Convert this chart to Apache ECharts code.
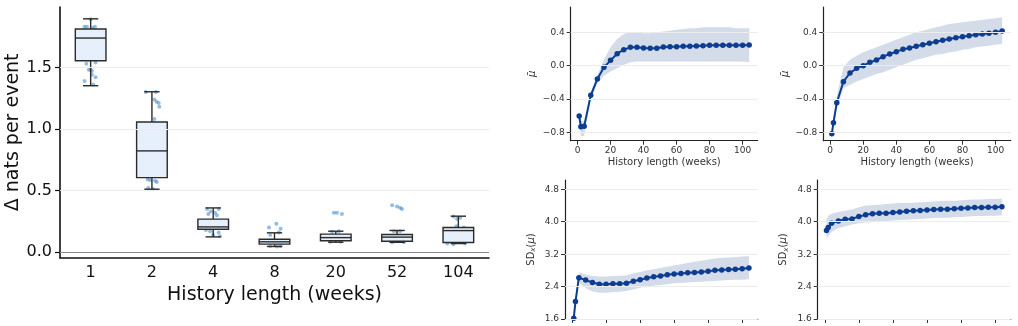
<!DOCTYPE html>
<html>
<head>
  <meta charset="UTF-8">
  <title>History length</title>
  <script src="https://cdn.jsdelivr.net/npm/echarts@6/dist/echarts.min.js"></script>
  <style>
    html, body { margin: 0; padding: 0; background: #fff; }
    #main { width: 1018px; height: 326px; }
  </style>
</head>
<body>
<div id="main"></div>
<script type="text/javascript">
  // ---- left panel: box plots ----
  var histCats = ['1', '2', '4', '8', '20', '52', '104'];
  // [min, Q1, median, Q3, max]
  var boxStats = [
    [1.351, 1.554, 1.738, 1.811, 1.894],
    [0.511, 0.605, 0.822, 1.057, 1.302],
    [0.124, 0.186, 0.205, 0.268, 0.359],
    [0.046, 0.065, 0.084, 0.105, 0.157],
    [0.081, 0.092, 0.118, 0.146, 0.170],
    [0.080, 0.089, 0.122, 0.143, 0.176],
    [0.070, 0.078, 0.175, 0.200, 0.292]
  ];
  // jittered points: [category index, offset, value]
  var dotPoints = [
    [0, -0.10, 1.83], [0, -0.06, 1.83], [0, 0.03, 1.82], [0, 0.07, 1.83], [0, 0.00, 1.89],
    [0, -0.07, 1.53], [0, 0.08, 1.54], [0, 0.00, 1.48], [0, -0.03, 1.48], [0, 0.02, 1.47],
    [0, -0.10, 1.39], [0, 0.08, 1.42], [0, 0.02, 1.44], [0, 0.04, 1.36], [0, -0.02, 1.66],
    [1, -0.10, 1.30], [1, 0.065, 1.30], [1, 0.04, 1.24], [1, 0.076, 1.22], [1, 0.11, 1.21],
    [1, 0.12, 1.18], [1, 0.04, 1.08], [1, -0.07, 0.59], [1, -0.03, 0.585], [1, 0.05, 0.58],
    [1, 0.08, 0.57], [1, -0.06, 0.52], [1, 0.02, 0.51], [1, 0.00, 0.80],
    [2, -0.10, 0.35], [2, -0.04, 0.33], [2, 0.03, 0.32], [2, 0.09, 0.35], [2, -0.08, 0.31],
    [2, 0.06, 0.30], [2, -0.12, 0.18], [2, -0.05, 0.17], [2, 0.09, 0.16], [2, 0.11, 0.13],
    [2, 0.00, 0.14],
    [3, -0.09, 0.20], [3, 0.03, 0.23], [3, 0.10, 0.19], [3, 0.07, 0.16], [3, -0.07, 0.14],
    [3, -0.07, 0.05], [3, 0.04, 0.045], [3, 0.10, 0.05],
    [4, -0.03, 0.32], [4, 0.02, 0.32], [4, 0.10, 0.31], [4, 0.05, 0.17], [4, -0.06, 0.165],
    [4, -0.09, 0.085], [4, 0.08, 0.085],
    [5, -0.08, 0.38], [5, 0.00, 0.37], [5, 0.05, 0.36], [5, 0.08, 0.35], [5, -0.05, 0.17],
    [5, 0.05, 0.17], [5, -0.08, 0.08], [5, 0.11, 0.08],
    [6, -0.08, 0.29], [6, 0.03, 0.28], [6, -0.02, 0.27], [6, -0.03, 0.21], [6, 0.09, 0.20],
    [6, -0.18, 0.07], [6, -0.08, 0.065], [6, 0.11, 0.07]
  ];
  var leftTicks = [0, 0.5, 1.0, 1.5];

  // ---- right panels ----
  var weeks = [1, 2, 4, 8, 12, 16, 20, 24, 28, 32, 36, 40, 44, 48, 52, 56, 60, 64, 68, 72,
    76, 80, 84, 88, 92, 96, 100, 104];
  var weekTicks = [0, 20, 40, 60, 80, 100];
  var muTicks = [-0.8, -0.4, 0.0, 0.4];
  var sdTicks = [1.6, 2.4, 3.2, 4.0, 4.8];

  var muA = [-0.604, -0.732, -0.728, -0.356, -0.16, -0.02, 0.064, 0.144, 0.192, 0.22, 0.22,
    0.212, 0.208, 0.208, 0.224, 0.228, 0.228, 0.232, 0.232, 0.236, 0.24, 0.244, 0.244, 0.244,
    0.244, 0.244, 0.244, 0.248];
  var muALo = [-0.66, -0.85, -0.84, -0.40, -0.21, -0.12, -0.07, -0.03, 0.01, 0.04, 0.05, 0.05,
    0.05, 0.05, 0.05, 0.05, 0.05, 0.05, 0.05, 0.05, 0.05, 0.05, 0.05, 0.05, 0.05, 0.05, 0.05, 0.04];
  var muAHi = [-0.55, -0.66, -0.66, -0.31, -0.11, 0.07, 0.22, 0.32, 0.38, 0.40, 0.40, 0.39,
    0.39, 0.40, 0.41, 0.42, 0.43, 0.44, 0.45, 0.45, 0.46, 0.46, 0.46, 0.46, 0.46, 0.45, 0.45, 0.45];

  var muB = [-0.816, -0.684, -0.444, -0.192, -0.088, -0.032, 0.0, 0.04, 0.068, 0.108, 0.14,
    0.168, 0.196, 0.212, 0.232, 0.252, 0.268, 0.288, 0.304, 0.32, 0.336, 0.348, 0.36, 0.372,
    0.38, 0.388, 0.40, 0.416];
  var muBLo = [-0.86, -0.74, -0.52, -0.27, -0.23, -0.19, -0.16, -0.13, -0.10, -0.08, -0.05,
    -0.02, 0.01, 0.04, 0.07, 0.09, 0.11, 0.13, 0.14, 0.16, 0.17, 0.19, 0.20, 0.22, 0.23, 0.24,
    0.25, 0.26];
  var muBHi = [-0.76, -0.62, -0.36, -0.02, 0.07, 0.12, 0.16, 0.19, 0.22, 0.25, 0.28, 0.31,
    0.34, 0.37, 0.40, 0.42, 0.44, 0.46, 0.48, 0.50, 0.51, 0.52, 0.53, 0.54, 0.55, 0.56, 0.57, 0.58];

  var sdA = [1.62, 2.03, 2.62, 2.56, 2.50, 2.46, 2.46, 2.47, 2.47, 2.48, 2.53, 2.57, 2.61,
    2.64, 2.66, 2.69, 2.71, 2.72, 2.74, 2.75, 2.76, 2.78, 2.80, 2.81, 2.82, 2.83, 2.84, 2.86];
  var sdALo = [1.55, 1.95, 2.50, 2.36, 2.28, 2.25, 2.25, 2.26, 2.27, 2.29, 2.33, 2.37, 2.40,
    2.42, 2.44, 2.46, 2.48, 2.49, 2.50, 2.51, 2.52, 2.53, 2.54, 2.55, 2.56, 2.57, 2.57, 2.58];
  var sdAHi = [1.68, 2.10, 2.75, 2.70, 2.66, 2.65, 2.65, 2.66, 2.67, 2.68, 2.72, 2.76, 2.80,
    2.83, 2.86, 2.89, 2.92, 2.95, 2.98, 3.01, 3.04, 3.07, 3.09, 3.11, 3.12, 3.13, 3.14, 3.15];

  var sdB = [3.786, 3.86, 3.96, 4.02, 4.06, 4.07, 4.13, 4.17, 4.20, 4.21, 4.21, 4.23, 4.24,
    4.26, 4.27, 4.28, 4.29, 4.30, 4.31, 4.31, 4.32, 4.33, 4.34, 4.35, 4.35, 4.36, 4.36, 4.37];
  var sdBLo = [3.60, 3.64, 3.75, 3.84, 3.89, 3.93, 3.96, 3.98, 3.99, 4.00, 4.02, 4.03, 4.04,
    4.05, 4.06, 4.07, 4.08, 4.09, 4.10, 4.10, 4.11, 4.12, 4.13, 4.14, 4.14, 4.15, 4.15, 4.16];
  var sdBHi = [4.05, 4.15, 4.20, 4.24, 4.27, 4.30, 4.36, 4.40, 4.41, 4.42, 4.44, 4.45, 4.46,
    4.46, 4.47, 4.48, 4.49, 4.50, 4.51, 4.52, 4.52, 4.53, 4.54, 4.55, 4.55, 4.56, 4.56, 4.57];

  var lineColor = '#0d3d91';
  var bandColor = '#d4dcea';
  var gridColor = '#ececec';

  function fmt(v) {
    return v.toFixed(1).replace('-', '\u2212');
  }
  function pairs(xs, ys) {
    return xs.map(function (x, i) { return [x, ys[i]]; });
  }
  function gridMarks(vals, color) {
    return {
      silent: true,
      symbol: ['none', 'none'],
      label: { show: false },
      lineStyle: { color: color, width: 1, type: 'solid' },
      data: vals.map(function (v) { return { yAxis: v }; })
    };
  }

  var myChart = echarts.init(document.getElementById('main'));

  var smallX = function (grid, showLabels) {
    return {
      type: 'value', gridIndex: grid, min: -4.15, max: 109.15,
      name: showLabels ? 'History length (weeks)' : '',
      nameLocation: 'middle', nameGap: 17,
      nameTextStyle: { fontSize: 10, color: '#333', fontFamily: 'DejaVu Sans' },
      axisLine: { show: true, onZero: false, lineStyle: { color: '#222', width: 1.2 } },
      axisTick: { show: true, length: 4, customValues: weekTicks, lineStyle: { color: '#333' } },
      axisLabel: { show: showLabels, customValues: weekTicks, fontSize: 9, color: '#333',
        margin: 5, fontFamily: 'DejaVu Sans' },
      splitLine: { show: false }
    };
  };
  var smallY = function (grid, lo, hi, ticks, name, gap) {
    return {
      type: 'value', gridIndex: grid, min: lo, max: hi,
      name: name, nameLocation: 'middle', nameGap: gap, nameRotate: 90,
      nameTextStyle: {
        fontSize: 10, color: '#333', fontFamily: 'DejaVu Sans',
        rich: {
          n: { fontSize: 10, color: '#333', fontFamily: 'DejaVu Sans' },
          i: { fontSize: 10, color: '#333', fontStyle: 'italic', fontFamily: 'DejaVu Sans' },
          s: { fontSize: 7, color: '#333', fontStyle: 'italic', fontFamily: 'DejaVu Sans',
            padding: [5, 0, 0, 0] }
        }
      },
      axisLine: { show: true, onZero: false, lineStyle: { color: '#222', width: 1.2 } },
      axisTick: { show: true, length: 4, customValues: ticks, lineStyle: { color: '#333' } },
      axisLabel: { customValues: ticks, fontSize: 9, color: '#333', margin: 6,
        fontFamily: 'DejaVu Sans', formatter: fmt },
      splitLine: { show: false }
    };
  };

  function panelSeries(axisIdx, mean, lo, hi, ticks) {
    var bandData = weeks.map(function (w, i) { return [w, lo[i], hi[i]]; });
    return [
      {
        type: 'custom', xAxisIndex: axisIdx, yAxisIndex: axisIdx,
        data: bandData, encode: { x: 0, y: [1, 2] }, clip: true, silent: true, z: 2,
        markLine: gridMarks(ticks, gridColor),
        renderItem: function (params, api) {
          if (params.dataIndex !== 0) return null;
          var top = [], bot = [];
          for (var i = 0; i < weeks.length; i++) {
            top.push(api.coord([weeks[i], hi[i]]));
            bot.unshift(api.coord([weeks[i], lo[i]]));
          }
          return {
            type: 'polygon',
            shape: { points: top.concat(bot) },
            style: { fill: bandColor, stroke: null }
          };
        }
      },
      {
        type: 'line', xAxisIndex: axisIdx, yAxisIndex: axisIdx,
        data: pairs(weeks, mean), symbol: 'circle', symbolSize: 5.5,
        itemStyle: { color: lineColor }, lineStyle: { color: lineColor, width: 2 }, z: 3
      }
    ];
  }

  var boxData = boxStats.map(function (b, i) { return [i].concat(b); });
  var dotData = dotPoints.map(function (p) { return [p[0] + p[1], p[2]]; });

  var option = {
    animation: false,
    textStyle: { fontFamily: 'DejaVu Sans' },
    grid: [
      { left: 60, top: 7, width: 429, height: 250.7 },
      { left: 570.7, top: 7, width: 187, height: 133.7 },
      { left: 823.3, top: 7, width: 187.4, height: 133.7 },
      { left: 565, top: 180, width: 192.7, height: 139 },
      { left: 817.7, top: 180, width: 193, height: 139 }
    ],
    xAxis: [
      {
        type: 'category', gridIndex: 0, data: histCats,
        name: 'History length (weeks)', nameLocation: 'middle', nameGap: 25,
        nameTextStyle: { fontSize: 19, color: '#111' },
        axisLine: { onZero: false, lineStyle: { color: '#111', width: 1.6 } },
        axisTick: { alignWithLabel: true, length: 5, lineStyle: { color: '#111', width: 1.2 } },
        axisLabel: { fontSize: 16, color: '#111', margin: 7 }
      },
      smallX(1, true),
      smallX(2, true),
      smallX(3, false),
      smallX(4, false),
      { type: 'value', gridIndex: 0, min: -0.5, max: 6.5, show: false }
    ],
    yAxis: [
      {
        type: 'value', gridIndex: 0, min: -0.045, max: 1.99,
        name: 'Δ nats per event', nameLocation: 'middle', nameGap: 37,
        nameTextStyle: { fontSize: 19, color: '#111' },
        axisLine: { show: true, onZero: false, lineStyle: { color: '#111', width: 1.6 } },
        axisTick: { show: true, length: 5, customValues: leftTicks, lineStyle: { color: '#111', width: 1.2 } },
        axisLabel: { customValues: leftTicks, fontSize: 16, color: '#111', margin: 8,
          formatter: function (v) { return v.toFixed(1); } },
        splitLine: { show: false }
      },
      smallY(1, -0.9, 0.704, muTicks, '{i|μ̄}', 33),
      smallY(2, -0.9, 0.704, muTicks, '{i|μ̄}', 33),
      smallY(3, 1.6, 5.03, sdTicks, '{n|SD}{s|x}{n|(}{i|μ}{n|)}', 28),
      smallY(4, 1.6, 5.03, sdTicks, '{n|SD}{s|x}{n|(}{i|μ}{n|)}', 28)
    ],
    series: [
      {
        type: 'scatter', xAxisIndex: 5, yAxisIndex: 0,
        data: dotData, symbolSize: 4, silent: true,
        itemStyle: { color: '#3d86cc', opacity: 0.55 },
        markLine: {
          silent: true, symbol: ['none', 'none'], label: { show: false },
          data: leftTicks.map(function (v) {
            return { yAxis: v, lineStyle: { color: v === 0 ? '#8a8a8a' : gridColor, width: v === 0 ? 1.2 : 1, type: 'solid' } };
          })
        },
        z: 1
      },
      {
        type: 'custom', xAxisIndex: 0, yAxisIndex: 0,
        data: boxData, encode: { x: 0, y: [1, 2, 3, 4, 5] }, z: 3,
        renderItem: function (params, api) {
          var i = api.value(0);
          var lo = api.coord([i, api.value(1)]);
          var q1 = api.coord([i, api.value(2)]);
          var md = api.coord([i, api.value(3)]);
          var q3 = api.coord([i, api.value(4)]);
          var hi = api.coord([i, api.value(5)]);
          var bw = api.size([1, 0])[0] * 0.5;
          var cw = bw * 0.5;
          var x = lo[0];
          var st = { stroke: '#2b2b2b', lineWidth: 1.4, fill: null };
          return {
            type: 'group',
            children: [
              { type: 'line', shape: { x1: x, y1: hi[1], x2: x, y2: q3[1] }, style: st },
              { type: 'line', shape: { x1: x, y1: q1[1], x2: x, y2: lo[1] }, style: st },
              { type: 'line', shape: { x1: x - cw / 2, y1: hi[1], x2: x + cw / 2, y2: hi[1] }, style: st },
              { type: 'line', shape: { x1: x - cw / 2, y1: lo[1], x2: x + cw / 2, y2: lo[1] }, style: st },
              {
                type: 'rect',
                shape: { x: x - bw / 2, y: q3[1], width: bw, height: q1[1] - q3[1] },
                style: { fill: '#e6effc', stroke: '#2b2b2b', lineWidth: 1.4 }
              },
              { type: 'line', shape: { x1: x - bw / 2, y1: md[1], x2: x + bw / 2, y2: md[1] }, style: st }
            ]
          };
        }
      }
    ].concat(
      panelSeries(1, muA, muALo, muAHi, muTicks),
      panelSeries(2, muB, muBLo, muBHi, muTicks),
      panelSeries(3, sdA, sdALo, sdAHi, sdTicks),
      panelSeries(4, sdB, sdBLo, sdBHi, sdTicks)
    )
  };

  myChart.setOption(option);
</script>
</body>
</html>
